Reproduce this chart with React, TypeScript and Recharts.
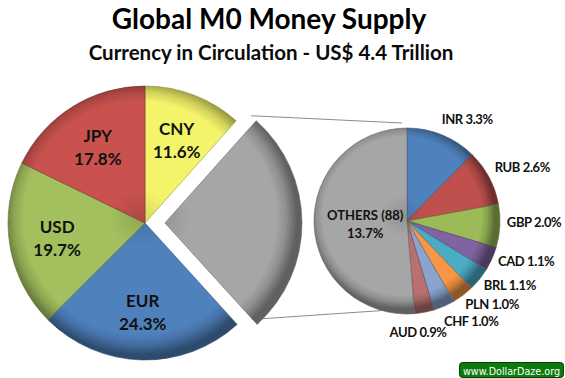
import React from 'react';
import { PieChart, Pie, Cell } from 'recharts';

// main pie, clockwise from 12 o'clock
const mainNames = ['CNY', 'OTHERS', 'EUR', 'USD', 'JPY'];
const mainValues = [11.6, 26.7, 24.3, 19.7, 17.8];
const mainColors = ['#f4f46a', '#a6a6a6', '#4f81bd', '#a2c05e', '#c9524f'];

// secondary pie (breakdown of OTHERS)
const subNames = ['INR', 'RUB', 'GBP', 'CAD', 'BRL', 'PLN', 'CHF', 'AUD', 'OTHERS (88)'];
const subValues = [3.3, 2.6, 2.0, 1.1, 1.1, 1.0, 1.0, 0.9, 13.7];
const subColors = ['#4f81bd', '#c0504d', '#9bbb59', '#8064a2', '#4bacc6', '#f79646', '#8aa4cf', '#b87170', '#a6a6a6'];

const W = 565;
const H = 378;
const MAIN = { cx: 140, cy: 218, r: 137 };
const EXPLODE = 20;
const SUB = { cx: 402, cy: 216, r: 93 };
const RAD = Math.PI / 180;
const FONT = 'Lato, "Open Sans", sans-serif';

const mainData = mainNames.map((name, i) => ({ name, value: mainValues[i] }));
const subData = subNames.map((name, i) => ({ name, value: subValues[i] }));

function darken(hex: string, f: number) {
  const n = parseInt(hex.slice(1), 16);
  const r = Math.round(((n >> 16) & 255) * f);
  const g = Math.round(((n >> 8) & 255) * f);
  const b = Math.round((n & 255) * f);
  return `rgb(${r},${g},${b})`;
}

// clockwise angle (deg from top) where a slice starts
function startAngleOf(values: number[], idx: number) {
  const total = values.reduce((a, b) => a + b, 0);
  const before = values.slice(0, idx).reduce((a, b) => a + b, 0);
  return (before / total) * 360;
}
function pointAt(cx: number, cy: number, r: number, cw: number) {
  return { x: cx + r * Math.sin(cw * RAD), y: cy - r * Math.cos(cw * RAD) };
}

// outside label spots for the small slices, spread so they don't collide
const subLabelPos = (() => {
  const out: { x: number; y: number; anchor: string }[] = [];
  let prevY = -Infinity;
  for (let i = 0; i < subValues.length - 1; i++) {
    const mid = (startAngleOf(subValues, i) + startAngleOf(subValues, i + 1)) / 2;
    const p = pointAt(SUB.cx, SUB.cy, SUB.r + 12, mid);
    const down = -Math.cos(mid * RAD);
    let y = p.y + Math.max(0, down) * 5;
    let x = p.x;
    let anchor = 'start';
    if (mid > 165) {
      // too crowded at the bottom: flip left of the slice
      anchor = 'end';
      x += 25;
      y += 8;
    } else if (down > 0) {
      y = Math.max(y, prevY + 17);
    }
    prevY = y;
    out.push({ x, y, anchor });
  }
  return out;
})();

function Bevel({ id, color, cx, cy, r }: { id: string; color: string; cx: number; cy: number; r: number }) {
  return (
    <radialGradient id={id} gradientUnits="userSpaceOnUse" cx={cx} cy={cy} r={r}>
      <stop offset="0%" stopColor={darken(color, 0.88)} />
      <stop offset="22%" stopColor={color} />
      <stop offset="85%" stopColor={color} />
      <stop offset="92%" stopColor={darken(color, 0.86)} />
      <stop offset="100%" stopColor={darken(color, 0.58)} />
    </radialGradient>
  );
}

const renderMainLabel = (props: any) => {
  const { cx, cy, midAngle, outerRadius, index } = props;
  if (mainNames[index] === 'OTHERS') return null;
  const r = outerRadius * 0.65;
  const x = cx + r * Math.cos(-midAngle * RAD);
  const y = cy + r * Math.sin(-midAngle * RAD);
  return (
    <text x={x} y={y} textAnchor="middle" fontFamily={FONT} fontWeight={700} fontSize={17} fill="#111">
      <tspan x={x} y={y - 5}>{mainNames[index]}</tspan>
      <tspan x={x} y={y + 18}>{mainValues[index].toFixed(1)}%</tspan>
    </text>
  );
};

const renderSubLabel = (props: any) => {
  const { cx, cy, midAngle, outerRadius, index } = props;
  const name = subNames[index];
  const val = subValues[index].toFixed(1) + '%';
  if (index === subNames.length - 1) {
    const r = outerRadius * 0.45;
    const x = cx + r * Math.cos(-midAngle * RAD);
    const y = cy + r * Math.sin(-midAngle * RAD);
    return (
      <text x={x} y={y} textAnchor="middle" fontFamily={FONT} fontWeight={700} fontSize={13} fill="#111">
        <tspan x={x} y={y - 3}>{name}</tspan>
        <tspan x={x} y={y + 15}>{val}</tspan>
      </text>
    );
  }
  const pos = subLabelPos[index];
  return (
    <text
      x={pos.x}
      y={pos.y}
      textAnchor={pos.anchor}
      dominantBaseline="central"
      fontFamily={FONT}
      fontWeight={700}
      fontSize={13}
      letterSpacing={-0.4}
      fill="#111"
    >
      {name} {val}
    </text>
  );
};

export default function App() {
  const othersIdx = mainNames.indexOf('OTHERS');
  const a0 = startAngleOf(mainValues, othersIdx);
  const a1 = startAngleOf(mainValues, othersIdx + 1);
  const p0 = pointAt(MAIN.cx + EXPLODE, MAIN.cy, MAIN.r, a0);
  const p1 = pointAt(MAIN.cx + EXPLODE, MAIN.cy, MAIN.r, a1);
  const q0 = pointAt(SUB.cx, SUB.cy, SUB.r, 0);
  const q1 = pointAt(SUB.cx, SUB.cy, SUB.r, startAngleOf(subValues, subValues.length - 1));

  return (
    <div style={{ position: 'absolute', left: 0, top: 0, width: W, height: H, background: '#fff' }}>
      <svg width={W} height={H} style={{ position: 'absolute', left: 0, top: 0 }}>
        <line x1={p0.x} y1={p0.y} x2={q0.x} y2={q0.y} stroke="#8c8c8c" strokeWidth={1} />
        <line x1={p1.x} y1={p1.y} x2={q1.x} y2={q1.y} stroke="#8c8c8c" strokeWidth={1} />
      </svg>
      <div style={{ position: 'absolute', left: 0, top: 0 }}>
        <PieChart width={W} height={H}>
          <defs>
            {mainColors.map((c, i) => (
              <Bevel key={'m' + i} id={'m' + i} color={c} cx={MAIN.cx} cy={MAIN.cy} r={MAIN.r} />
            ))}
            <Bevel id="mx" color={mainColors[othersIdx]} cx={MAIN.cx + EXPLODE} cy={MAIN.cy} r={MAIN.r} />
            {subColors.map((c, i) => (
              <Bevel key={'s' + i} id={'s' + i} color={c} cx={SUB.cx} cy={SUB.cy} r={SUB.r} />
            ))}
          </defs>
          <Pie
            data={mainData}
            dataKey="value"
            nameKey="name"
            cx={MAIN.cx}
            cy={MAIN.cy}
            outerRadius={MAIN.r}
            startAngle={90}
            endAngle={-270}
            label={renderMainLabel}
            labelLine={false}
            isAnimationActive={false}
          >
            {mainColors.map((c, i) => (
              <Cell
                key={i}
                fill={i === othersIdx ? 'none' : `url(#m${i})`}
                stroke={i === othersIdx ? 'none' : darken(c, 0.6)}
                strokeWidth={0.6}
              />
            ))}
          </Pie>
          {/* exploded slice */}
          <Pie
            data={mainData}
            dataKey="value"
            nameKey="name"
            cx={MAIN.cx + EXPLODE}
            cy={MAIN.cy}
            outerRadius={MAIN.r}
            startAngle={90}
            endAngle={-270}
            isAnimationActive={false}
          >
            {mainColors.map((c, i) => (
              <Cell
                key={i}
                fill={i === othersIdx ? 'url(#mx)' : 'none'}
                stroke={i === othersIdx ? darken(c, 0.6) : 'none'}
                strokeWidth={0.6}
              />
            ))}
          </Pie>
          <Pie
            data={subData}
            dataKey="value"
            nameKey="name"
            cx={SUB.cx}
            cy={SUB.cy}
            outerRadius={SUB.r}
            startAngle={90}
            endAngle={-270}
            label={renderSubLabel}
            labelLine={false}
            isAnimationActive={false}
          >
            {subColors.map((c, i) => (
              <Cell key={i} fill={`url(#s${i})`} stroke={darken(c, 0.6)} strokeWidth={0.6} />
            ))}
          </Pie>
        </PieChart>
      </div>
      <svg width={W} height={H} style={{ position: 'absolute', left: 0, top: 0, pointerEvents: 'none' }}>
        <text x={269} y={29} textAnchor="middle" fontFamily={FONT} fontWeight={700} fontSize={28} fill="#000">
          Global M0 Money Supply
        </text>
        <text x={271} y={60} textAnchor="middle" fontFamily={FONT} fontWeight={700} fontSize={20.5} fill="#0a0a0a">
          Currency in Circulation - US$ 4.4 Trillion
        </text>
        <rect x={459.5} y={362.5} width={104} height={15} rx={3} fill="#0c7a0c" stroke="#0a3d0a" />
        <text x={511.5} y={374.5} textAnchor="middle" fontFamily='"DejaVu Sans", sans-serif' fontSize={9.6} fill="#fff">
          www.DollarDaze.org
        </text>
      </svg>
    </div>
  );
}
